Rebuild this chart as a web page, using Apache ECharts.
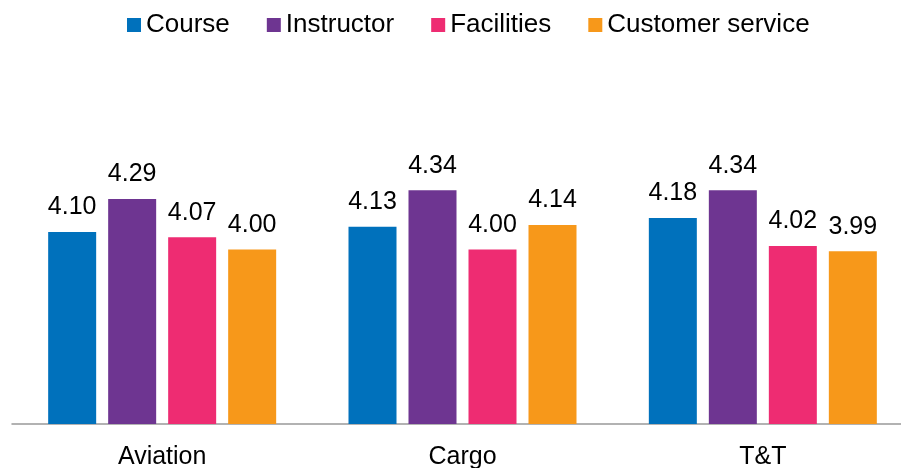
<!DOCTYPE html>
<html>
<head>
<meta charset="utf-8">
<script src="https://cdn.jsdelivr.net/npm/echarts@6/dist/echarts.min.js"></script>
<style>
html,body{margin:0;padding:0;background:#fff;}
#chart{width:901px;height:468px;}
</style>
</head>
<body>
<div id="chart"></div>
<script>
const categories = ['Aviation', 'Cargo', 'T&T'];
const seriesNames = ['Course', 'Instructor', 'Facilities', 'Customer service'];
const course = [4.10, 4.13, 4.18];
const instructor = [4.29, 4.34, 4.34];
const facilities = [4.07, 4.00, 4.02];
const customerService = [4.00, 4.14, 3.99];
const colors = ['#0071BC', '#6E3591', '#EE2C72', '#F7981A'];

const dataSets = [course, instructor, facilities, customerService];
const font = '"Liberation Sans", Arial, sans-serif';

const chart = echarts.init(document.getElementById('chart'));
chart.setOption({
  animation: false,
  textStyle: { fontFamily: font },
  legend: {
    top: 12,
    left: 127,
    padding: 0,
    itemWidth: 14,
    itemHeight: 14,
    itemGap: 37,
    icon: 'rect',
    textStyle: { fontSize: 26, color: '#000', fontFamily: font },
    data: seriesNames
  },
  grid: { left: 12, right: -12, top: 75, bottom: 44, containLabel: false, outerBoundsMode: 'none' },
  xAxis: {
    type: 'category',
    data: categories,
    axisLine: { show: true, lineStyle: { color: '#999', width: 1.5 } },
    axisTick: { show: false },
    axisLabel: { fontSize: 25, color: '#000', margin: 21, fontFamily: font }
  },
  yAxis: {
    type: 'value',
    min: 3,
    max: 5,
    interval: 1,
    show: false,
    splitLine: { show: false }
  },
  series: dataSets.map((d, i) => ({
    name: seriesNames[i],
    type: 'bar',
    data: d,
    barWidth: 48,
    barGap: '25%',
    itemStyle: { color: colors[i] },
    label: {
      show: true,
      position: 'top',
      distance: 12,
      fontSize: 25,
      color: '#000',
      fontFamily: font,
      formatter: p => p.value.toFixed(2)
    }
  }))
});
</script>
</body>
</html>
